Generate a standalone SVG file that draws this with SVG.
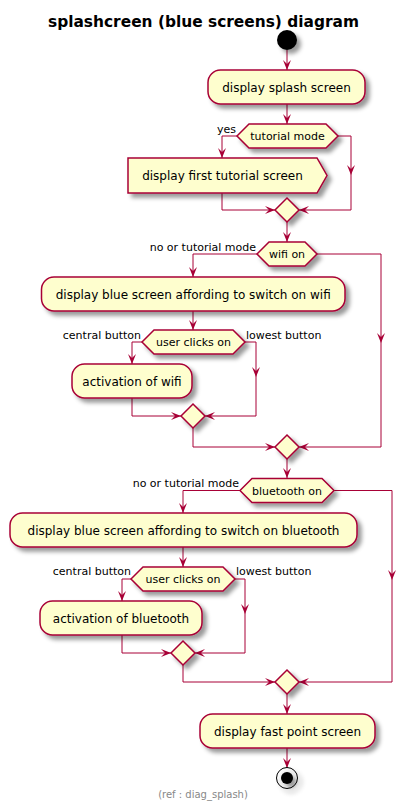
<svg xmlns="http://www.w3.org/2000/svg" width="406" height="810" viewBox="0 0 406 810">
<defs>
<filter id="sh" x="-1" y="-1" width="300%" height="300%">
<feGaussianBlur result="blur" stdDeviation="2"/>
<feColorMatrix type="matrix" in="blur" result="cm" values="0 0 0 0 0 0 0 0 0 0 0 0 0 0 0 0 0 0 .4 0"/>
<feOffset result="off" in="cm" dx="4" dy="4"/>
<feBlend in="SourceGraphic" in2="off" mode="normal"/>
</filter>
<marker id="ah" markerUnits="userSpaceOnUse" markerWidth="11" markerHeight="9" refX="10" refY="4" orient="auto" overflow="visible">
<path d="M0,0 L10,4 L0,8 L4,4 Z" fill="#A80036"/>
</marker>
<style>
.n{fill:#FEFECE;stroke:#A80036;stroke-width:1.5;filter:url(#sh)}
.t{font-family:"DejaVu Sans",sans-serif;font-size:12px;fill:#000;text-anchor:middle}
.h{font-family:"DejaVu Sans",sans-serif;font-size:11px;fill:#000;text-anchor:middle}
.l{font-family:"DejaVu Sans",sans-serif;font-size:11px;fill:#000}
.e{text-anchor:end}
.c path{fill:none;stroke:#A80036;stroke-width:1}
.c path.a{marker-end:url(#ah)}
</style>
</defs>
<text x="203.5" y="26.5" font-family="DejaVu Sans, sans-serif" font-size="15.4" font-weight="bold" text-anchor="middle">splashcreen (blue screens) diagram</text>

<g id="connectors" class="c">
<path class="a" d="M287,50 V70"/>
<path class="a" d="M287,104 V124"/>
<path class="a" d="M237,136 H222 V158"/>
<path class="a" d="M338,136 H351 V175"/>
<path class="a" d="M351,175 V210 H299"/>
<path class="a" d="M222,193 V210 H275"/>
<path class="a" d="M287,222 V242"/>
<path class="a" d="M257,254 H193 V277"/>
<path class="a" d="M317,254 H381 V343"/>
<path class="a" d="M381,343 V447 H299"/>
<path class="a" d="M193,311 V330"/>
<path class="a" d="M142,342 H132 V364"/>
<path class="a" d="M245,342 H256 V377"/>
<path class="a" d="M256,377 V416 H205"/>
<path class="a" d="M132,398 V416 H181"/>
<path class="a" d="M193,428 V447 H275"/>
<path class="a" d="M287,459 V478"/>
<path class="a" d="M240,490.5 H183 V513"/>
<path class="a" d="M334,490.5 H392 V580"/>
<path class="a" d="M392,580 V682 H299"/>
<path class="a" d="M183,547 V567"/>
<path class="a" d="M131,579 H122 V601"/>
<path class="a" d="M235,579 H245 V614"/>
<path class="a" d="M245,614 V653 H195"/>
<path class="a" d="M122,635 V653 H171"/>
<path class="a" d="M183,665 V682 H275"/>
<path class="a" d="M287,694 V714"/>
<path class="a" d="M287,748 V768"/>
</g>

<g id="start"><circle cx="287" cy="40" r="10" fill="#000" filter="url(#sh)"/></g>

<g id="splash"><rect class="n" x="208" y="70" width="157" height="34" rx="12.5"/><text class="t" x="286.5" y="91.5">display splash screen</text></g>

<g id="tutorial_mode"><polygon class="n" points="237,136 249,124 326,124 338,136 326,148 249,148"/><text class="h" x="287.5" y="140">tutorial mode</text></g>
<text class="l e" x="236" y="133">yes</text>

<g id="tutorial"><polygon class="n" points="128,158 317,158 327,175.5 317,193 128,193"/><text class="t" x="222.5" y="180">display first tutorial screen</text></g>

<g id="merge1"><polygon class="n" points="287,198 299,210 287,222 275,210"/></g>

<g id="wifi_on"><polygon class="n" points="257,254 269,242 305,242 317,254 305,266 269,266"/><text class="h" x="287" y="258">wifi on</text></g>
<text class="l e" x="256" y="251">no or tutorial mode</text>

<g id="wifi_screen"><rect class="n" x="41.5" y="277" width="303.5" height="34" rx="12.5"/><text class="t" x="193.2" y="298.5">display blue screen affording to switch on wifi</text></g>

<g id="wifi_clicks"><polygon class="n" points="142,342 154,330 233,330 245,342 233,354 154,354"/><text class="h" x="193.5" y="346">user clicks on</text></g>
<text class="l e" x="141" y="339">central button</text>
<text class="l" x="246" y="339">lowest button</text>

<g id="wifi_activation"><rect class="n" x="72" y="364" width="120" height="34" rx="12.5"/><text class="t" x="132" y="385.5">activation of wifi</text></g>

<g id="merge2"><polygon class="n" points="193,404 205,416 193,428 181,416"/></g>
<g id="merge3"><polygon class="n" points="287,435 299,447 287,459 275,447"/></g>

<g id="bt_on"><polygon class="n" points="240,490.5 252,478.5 322,478.5 334,490.5 322,502.5 252,502.5"/><text class="h" x="287" y="494.5">bluetooth on</text></g>
<text class="l e" x="239" y="487">no or tutorial mode</text>

<g id="bt_screen"><rect class="n" x="10" y="513" width="347" height="34" rx="12.5"/><text class="t" x="183.5" y="534.5">display blue screen affording to switch on bluetooth</text></g>

<g id="bt_clicks"><polygon class="n" points="131,579 143,567 223,567 235,579 223,591 143,591"/><text class="h" x="183" y="583">user clicks on</text></g>
<text class="l e" x="131" y="575">central button</text>
<text class="l" x="236" y="575">lowest button</text>

<g id="bt_activation"><rect class="n" x="40" y="601" width="162" height="34" rx="12.5"/><text class="t" x="121" y="622.5">activation of bluetooth</text></g>

<g id="merge4"><polygon class="n" points="183,641 195,653 183,665 171,653"/></g>
<g id="merge5"><polygon class="n" points="287,670 299,682 287,694 275,682"/></g>

<g id="fast_point"><rect class="n" x="200" y="714" width="175" height="34" rx="12.5"/><text class="t" x="287.5" y="735.5">display fast point screen</text></g>

<g id="end" filter="url(#sh)"><circle cx="287" cy="778" r="10.5" fill="none" stroke="#000" stroke-width="1"/><circle cx="287" cy="778" r="6" fill="#000"/></g>

<text x="203" y="798" font-family="DejaVu Sans, sans-serif" font-size="10" fill="#888888" text-anchor="middle">(ref : diag_splash)</text>
</svg>
